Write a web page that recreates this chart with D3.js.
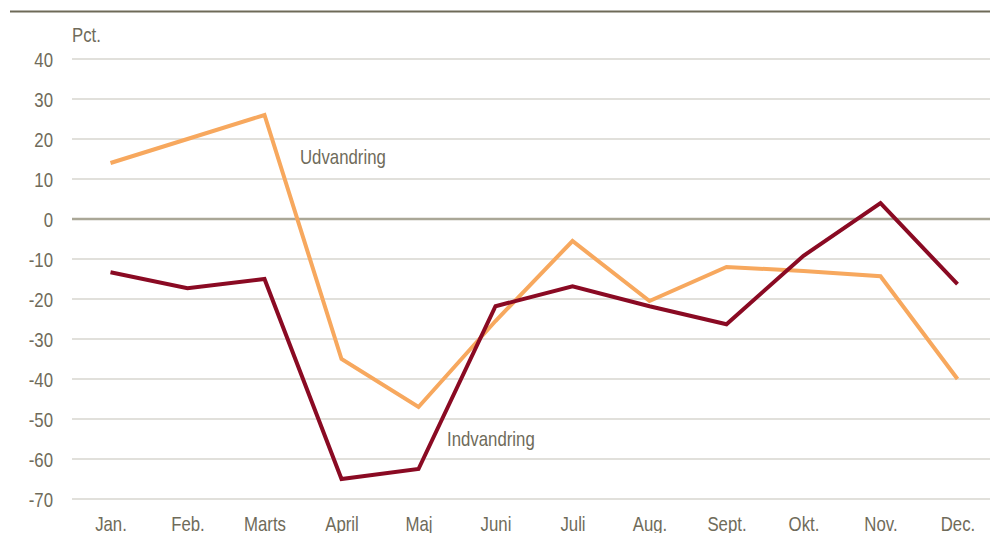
<!DOCTYPE html>
<html>
<head>
<meta charset="utf-8">
<script src="https://cdn.jsdelivr.net/npm/d3@7"></script>
<style>
    body { margin: 0; background: #fff; }
    text { font-family: "Liberation Sans", Arial, sans-serif; fill: #6f6b5a; }
</style>
</head>
<body>
<svg id="chart" width="990" height="533"></svg>
<script>
var months = ['Jan.', 'Feb.', 'Marts', 'April', 'Maj', 'Juni', 'Juli', 'Aug.', 'Sept.', 'Okt.', 'Nov.', 'Dec.'];
var udvandring = [14, 20, 26, -35, -47, -25.5, -5.5, -20.5, -12, -13, -14.3, -40];
var indvandring = [-13.3, -17.3, -15, -65, -62.5, -21.8, -16.8, -21.8, -26.3, -9.2, 4, -16.3];
var yTicks = [40, 30, 20, 10, 0, -10, -20, -30, -40, -50, -60, -70];

// no narrow font installed, so squeeze a regular one
var SQUEEZE = 'scale(0.84,1)';
var svg = d3.select('#chart');

var x = d3.scalePoint()
    .domain(months)
    .range([72, 996])
    .padding(0.5);

var y = d3.scaleLinear()
    .domain([-70, 40])
    .range([499, 59]);

// top rule
svg.append('line')
    .attr('x1', 10).attr('x2', 990)
    .attr('y1', 11.5).attr('y2', 11.5)
    .attr('stroke', '#6e6a58')
    .attr('stroke-width', 2);

// gridlines
svg.append('g')
    .selectAll('line')
    .data(yTicks)
    .enter()
    .append('line')
        .attr('x1', 72).attr('x2', 990)
        .attr('y1', function(d) { return y(d); })
        .attr('y2', function(d) { return y(d); })
        .attr('stroke', function(d) { return d == 0 ? '#aaa797' : '#c4c2b8'; })
        .attr('stroke-width', function(d) { return d == 0 ? 2.5 : 1.2; });

// y axis labels (plain hyphen minus like the original)
var yAxis = d3.axisLeft(y)
    .tickValues(yTicks)
    .tickFormat(function(d) { return String(d); })
    .tickSize(0)
    .tickPadding(0);
svg.append('g')
    .attr('transform', 'translate(53,0)')
    .call(yAxis)
    .call(function(g) { g.select('.domain').remove(); })
    .selectAll('text')
        .attr('dy', '0.38em')
        .attr('transform', SQUEEZE)
        .style('font-size', '20px')
        .style('font-family', '"Liberation Sans", Arial, sans-serif')
        .attr('fill', '#6f6b5a');

// x axis labels
var xAxis = d3.axisBottom(x)
    .tickSize(0)
    .tickPadding(0);
svg.append('g')
    .attr('transform', 'translate(0,530.5)')
    .call(xAxis)
    .call(function(g) { g.select('.domain').remove(); })
    .selectAll('text')
        .attr('dy', '0')
        .attr('transform', SQUEEZE)
        .style('font-size', '20px')
        .style('font-family', '"Liberation Sans", Arial, sans-serif')
        .attr('fill', '#6f6b5a');

function label(text, px, py) {
    svg.append('text')
        .attr('transform', 'translate(' + px + ',' + py + ') ' + SQUEEZE)
        .style('font-size', '20px')
        .text(text);
}

label('Pct.', 72, 42);

var line = d3.line()
    .x(function(d, i) { return x(months[i]); })
    .y(function(d) { return y(d); });

svg.append('path')
    .datum(udvandring)
    .attr('d', line)
    .attr('fill', 'none')
    .attr('stroke', '#f7a85e')
    .attr('stroke-width', 4)
    .attr('stroke-linejoin', 'miter');

svg.append('path')
    .datum(indvandring)
    .attr('d', line)
    .attr('fill', 'none')
    .attr('stroke', '#8a0a23')
    .attr('stroke-width', 4)
    .attr('stroke-linejoin', 'miter');

label('Udvandring', 300, 164);
label('Indvandring', 447, 446);
</script>
</body>
</html>
